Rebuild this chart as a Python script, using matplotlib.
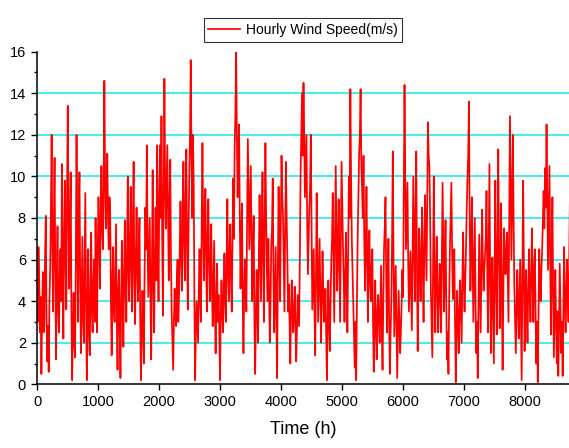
import numpy as np
import matplotlib
matplotlib.use('Agg')
import matplotlib.pyplot as plt

# wind speed (m/s), grouped by ~1000 h
# segN: readings at the start of each day, midN: readings half a day later
seg1 = [4.0, 6.6, 2.5, 0.5, 5.4, 2.8, 8.1, 1.1, 0.6, 5.5, 12.0, 3.5, 10.9, 1.2,
        7.6, 2.5, 6.5, 10.6, 2.2, 9.8, 3.6, 13.4, 4.6, 10.2, 0.2, 4.4, 1.3, 12.0,
        3.0, 10.2, 1.5, 7.1, 2.0, 9.2, 0.2, 6.5, 1.4, 7.3, 2.5, 6.0, 8.0, 2.5]
mid1 = [3.0, 5.0, 4.2, 3.5, 2.5, 6.2, 3.5, 2.8, 4.0, 8.5, 6.5, 7.8, 5.5, 4.5,
        3.8, 5.0, 4.0, 5.5, 7.0, 6.0, 9.0, 8.5, 7.0, 3.5, 2.5, 2.0, 6.0, 7.5,
        8.0, 5.0, 4.5, 3.0, 5.5, 4.0, 3.5, 2.5, 4.5, 3.5, 5.0, 3.0, 4.5, 6.5]
seg2 = [9.0, 4.6, 10.5, 6.5, 14.6, 7.5, 11.1, 6.5, 8.3, 1.4, 6.6, 3.0, 7.7, 0.7,
        5.5, 0.3, 6.9, 1.8, 7.9, 3.0, 10.0, 4.0, 9.5, 3.5, 10.7, 2.9, 8.5, 4.0,
        8.0, 0.2, 4.5, 1.0, 8.5, 11.5, 4.2, 8.0, 1.2, 10.3, 2.5, 8.5, 11.5, 4.0]
mid2 = [7.0, 8.0, 7.5, 9.5, 10.0, 9.0, 8.0, 9.0, 4.0, 5.0, 3.5, 5.5, 3.0, 4.5,
        2.5, 4.0, 3.5, 5.5, 4.5, 6.5, 5.5, 7.0, 5.5, 8.0, 5.0, 6.0, 5.5, 6.5,
        3.0, 2.5, 3.0, 5.5, 6.5, 7.0, 6.0, 4.0, 6.0, 5.0, 6.0, 5.0, 7.0, 9.0]
seg3 = [11.5, 12.9, 3.3, 14.7, 7.5, 11.5, 5.0, 10.8, 3.4, 0.7, 4.6, 2.8, 6.0, 4.3,
        8.8, 4.5, 10.7, 5.0, 11.3, 3.6, 10.0, 15.6, 8.0, 9.9, 0.2, 4.0, 2.0, 6.5,
        3.0, 11.6, 5.0, 9.4, 3.5, 8.9, 4.0, 7.7, 2.8, 6.9, 1.5, 5.8, 4.3, 0.2]
mid3 = [8.0, 7.0, 9.0, 10.0, 9.5, 8.0, 8.5, 6.0, 2.0, 3.0, 3.5, 5.0, 3.0, 6.5,
        6.0, 8.0, 7.0, 9.0, 6.5, 7.5, 12.0, 11.0, 12.0, 4.0, 2.5, 3.0, 4.5, 4.0,
        8.0, 7.5, 8.0, 6.0, 7.0, 6.0, 5.5, 4.5, 5.0, 3.5, 4.0, 3.0, 2.5, 3.5]
seg4 = [5.0, 2.5, 6.3, 3.0, 8.9, 4.0, 7.7, 3.5, 9.9, 11.5, 16.0, 9.0, 12.5, 4.6,
        8.7, 1.5, 6.0, 3.5, 11.8, 6.5, 10.5, 4.0, 8.1, 0.5, 5.5, 2.0, 9.1, 4.0,
        10.2, 3.0, 11.6, 5.5, 7.0, 2.0, 6.6, 9.9, 2.5, 6.6, 0.3, 9.5, 4.0, 11.0]
mid4 = [3.5, 4.5, 4.0, 6.0, 5.5, 6.5, 5.0, 6.5, 7.0, 13.0, 12.0, 11.0, 8.0, 7.0,
        4.0, 4.5, 4.5, 8.0, 9.0, 8.5, 7.0, 6.5, 3.0, 3.0, 4.0, 6.0, 6.5, 7.5,
        6.0, 8.0, 8.0, 4.0, 4.5, 4.0, 7.5, 5.0, 4.5, 3.0, 5.5, 6.5, 7.5, 9.0]
seg5 = [8.2, 3.5, 10.7, 6.0, 4.8, 1.0, 5.0, 2.5, 4.7, 1.1, 4.3, 2.8, 10.0, 14.0,
        14.5, 9.0, 12.0, 5.3, 8.5, 12.0, 3.6, 6.5, 1.4, 9.2, 3.0, 7.0, 2.0, 6.4,
        3.0, 4.6, 0.2, 5.0, 1.6, 6.0, 9.2, 3.0, 10.5, 4.5, 8.9, 3.0, 10.7, 6.5]
mid5 = [6.0, 7.5, 8.0, 3.5, 3.0, 3.5, 3.5, 3.5, 3.0, 2.5, 3.5, 6.0, 12.0, 11.0,
        12.0, 10.5, 8.0, 7.0, 9.5, 7.5, 5.0, 3.5, 5.0, 6.0, 5.0, 4.5, 4.0, 4.5,
        3.5, 2.5, 3.0, 3.0, 4.0, 7.0, 6.0, 7.0, 7.5, 6.5, 6.0, 7.0, 8.5, 5.0]
seg6 = [3.0, 7.3, 2.5, 10.0, 14.2, 7.0, 4.0, 0.8, 0.2, 7.0, 11.1, 14.2, 9.5, 11.0,
        4.5, 9.5, 3.0, 7.4, 4.0, 6.5, 0.6, 5.0, 1.2, 4.3, 2.0, 5.7, 0.7, 6.5,
        9.0, 2.5, 7.0, 0.5, 4.0, 11.2, 2.3, 5.7, 0.3, 4.5, 1.5, 3.8, 4.2, 14.4]
mid6 = [5.0, 4.5, 6.0, 8.0, 10.0, 5.5, 2.5, 3.0, 4.0, 9.0, 12.0, 10.5, 8.0, 7.0,
        6.5, 6.0, 5.5, 5.0, 5.5, 3.0, 3.0, 2.5, 3.5, 3.0, 4.0, 2.5, 4.0, 7.5,
        5.0, 4.5, 3.0, 2.5, 7.0, 6.0, 4.0, 3.0, 2.5, 3.0, 2.5, 5.5, 9.0, 10.0]
seg7 = [6.5, 9.7, 3.5, 6.4, 2.6, 10.0, 4.0, 11.2, 1.6, 7.5, 4.0, 8.5, 3.0, 9.1,
        5.0, 12.6, 10.5, 4.5, 1.3, 10.0, 2.5, 7.1, 2.5, 5.8, 2.5, 9.7, 3.5, 7.9,
        1.2, 0.5, 6.5, 9.7, 4.1, 6.5, 0.1, 4.5, 1.5, 5.0, 2.0, 7.3, 3.5, 6.5]
mid7 = [8.0, 6.0, 5.0, 4.5, 6.5, 7.0, 8.0, 5.5, 4.5, 6.0, 6.0, 5.5, 6.5, 7.0,
        9.0, 11.0, 8.0, 3.0, 6.0, 5.5, 5.0, 4.5, 4.0, 4.5, 6.0, 6.5, 5.5, 4.0,
        2.5, 4.0, 8.0, 6.5, 5.5, 3.0, 2.5, 3.0, 3.5, 3.5, 5.0, 5.0, 5.0, 8.5]
seg8 = [10.0, 13.6, 4.5, 9.0, 3.0, 8.0, 1.5, 0.3, 7.2, 2.5, 8.4, 4.5, 6.3, 9.3,
        2.5, 10.6, 1.5, 6.1, 1.0, 9.8, 2.4, 11.3, 2.7, 8.7, 0.7, 7.5, 5.3, 7.3,
        3.0, 12.9, 6.0, 12.0, 4.7, 1.5, 5.5, 2.2, 6.0, 0.2, 9.8, 1.6, 5.5, 2.0]
mid8 = [11.0, 8.0, 6.5, 6.0, 5.5, 4.0, 3.0, 4.0, 5.0, 5.5, 6.0, 5.5, 7.0, 5.5,
        6.5, 5.0, 4.0, 3.5, 5.5, 5.0, 6.5, 7.0, 5.0, 4.0, 4.5, 6.0, 6.5, 5.0,
        8.0, 9.5, 9.0, 8.0, 3.0, 3.5, 4.0, 4.0, 3.0, 5.0, 6.0, 4.0, 3.5, 4.5]
seg9 = [6.5, 3.0, 7.5, 3.0, 6.5, 1.0, 0.1, 6.5, 4.0, 6.5, 9.3, 10.4, 12.5, 5.5,
        10.5, 2.4, 9.0, 1.3, 5.5, 1.0, 0.4, 5.8, 1.5, 0.4, 6.6, 2.5, 6.0, 3.0, 9.3]
mid9 = [4.5, 5.0, 5.0, 5.5, 3.5, 3.0, 3.5, 5.0, 5.5, 8.0, 7.5, 8.5, 9.0, 8.0,
        6.0, 5.5, 4.5, 3.5, 3.0, 3.5, 2.5, 3.5, 3.0, 3.5, 4.0, 4.5, 4.0, 6.0, 5.0]

day = np.array(seg1 + seg2 + seg3 + seg4 + seg5 + seg6 + seg7 + seg8 + seg9)
half = np.array(mid1 + mid2 + mid3 + mid4 + mid5 + mid6 + mid7 + mid8 + mid9)
speed = np.column_stack((day, half)).ravel()
hours = np.arange(len(speed)) * 12

xticks = [0, 1000, 2000, 3000, 4000, 5000, 6000, 7000, 8000]
yticks = [0, 2, 4, 6, 8, 10, 12, 14, 16]
grid_y = [2, 4, 6, 8, 10, 12, 14]

plt.rcParams['font.family'] = ['Liberation Sans', 'DejaVu Sans']

fig = plt.figure(figsize=(5.69, 4.48), dpi=100)
ax = fig.add_axes([37/569, 1 - 384.3/448, 532/569, 332.6/448])

for g in grid_y:
    ax.axhline(g, color='#33EEEE', lw=1.3, zorder=1)

ax.plot(hours, speed, color='#FF0000', lw=1.25, zorder=2,
        label='Hourly Wind Speed(m/s)')

ax.set_xlim(0, 8720)
ax.set_ylim(0, 16)
ax.set_xticks(xticks)
ax.set_yticks(yticks)
ax.set_yticks(np.arange(1, 16, 2), minor=True)
ax.tick_params(axis='both', which='major', direction='out', length=4.5,
               width=1, labelsize=10.5, colors='black')
ax.tick_params(axis='y', which='minor', direction='out', length=2.2, width=1)
ax.spines['top'].set_visible(False)
ax.spines['right'].set_visible(False)
ax.spines['left'].set_linewidth(1.1)
ax.spines['bottom'].set_linewidth(1.1)
ax.set_xlabel('Time (h)', fontsize=13, labelpad=8)

leg = fig.legend(loc='upper center', bbox_to_anchor=(303/569, 1 - 11/448),
                 fontsize=10, frameon=True, fancybox=False, handlelength=2.3,
                 borderpad=0.35, handletextpad=0.4)
leg.get_frame().set_edgecolor('black')
leg.get_frame().set_linewidth(0.8)

fig.savefig('out.png', dpi=100)
